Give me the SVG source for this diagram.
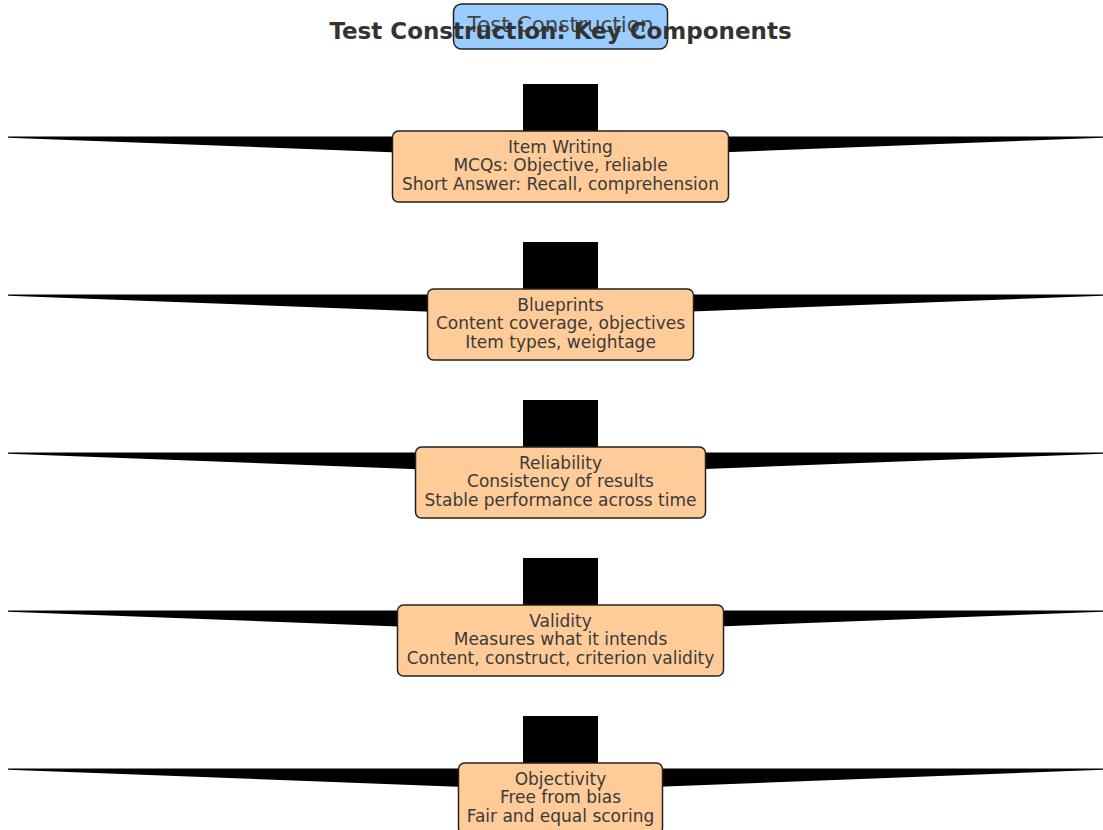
<svg xmlns="http://www.w3.org/2000/svg" width="1103" height="830" viewBox="0 0 1103 830">
<style>
.bg{fill:#ffffff}
.conn{fill:#000000;stroke:none}
.box{fill:#ffcc99;stroke:#222222;stroke-width:1.5}
.root{fill:#99ccff;stroke:#222222;stroke-width:1.5}
.t{font-family:"DejaVu Sans",sans-serif;font-size:17px;fill:#3a3a3a;text-anchor:middle}
.rt{font-family:"DejaVu Sans",sans-serif;font-size:21.5px;fill:#444444;text-anchor:middle}
.title{font-family:"DejaVu Sans",sans-serif;font-weight:bold;font-size:23px;fill:#333333;text-anchor:middle}
</style>
<rect class="bg" x="0" y="0" width="1103" height="830"/>
<g id="connectors">
  <g transform="translate(0,0)">
    <rect class="conn" x="523" y="84" width="75" height="48"/>
    <polygon class="conn" points="8,136.5 1103,136.5 1103,137.8 560,158.5 8,137.8"/>
  </g>
  <g transform="translate(0,158)">
    <rect class="conn" x="523" y="84" width="75" height="48"/>
    <polygon class="conn" points="8,136.5 1103,136.5 1103,137.8 560,158.5 8,137.8"/>
  </g>
  <g transform="translate(0,316)">
    <rect class="conn" x="523" y="84" width="75" height="48"/>
    <polygon class="conn" points="8,136.5 1103,136.5 1103,137.8 560,158.5 8,137.8"/>
  </g>
  <g transform="translate(0,474)">
    <rect class="conn" x="523" y="84" width="75" height="48"/>
    <polygon class="conn" points="8,136.5 1103,136.5 1103,137.8 560,158.5 8,137.8"/>
  </g>
  <g transform="translate(0,632)">
    <rect class="conn" x="523" y="84" width="75" height="48"/>
    <polygon class="conn" points="8,136.5 1103,136.5 1103,137.8 560,158.5 8,137.8"/>
  </g>
</g>
<g id="node-root">
  <rect class="root" x="453.5" y="4" width="214" height="45" rx="8"/>
  <text class="rt" x="560.5" y="31.5">Test Construction</text>
</g>
<g id="node-item-writing">
  <rect class="box" x="392.5" y="131" width="336" height="71" rx="6"/>
  <text class="t" x="560.5" y="152.5">Item Writing</text>
  <text class="t" x="560.5" y="171">MCQs: Objective, reliable</text>
  <text class="t" x="560.5" y="189.5">Short Answer: Recall, comprehension</text>
</g>
<g id="node-blueprints">
  <rect class="box" x="427.5" y="289" width="266" height="71" rx="6"/>
  <text class="t" x="560.5" y="310.5">Blueprints</text>
  <text class="t" x="560.5" y="329">Content coverage, objectives</text>
  <text class="t" x="560.5" y="347.5">Item types, weightage</text>
</g>
<g id="node-reliability">
  <rect class="box" x="415.5" y="447" width="290" height="71" rx="6"/>
  <text class="t" x="560.5" y="468.5">Reliability</text>
  <text class="t" x="560.5" y="487">Consistency of results</text>
  <text class="t" x="560.5" y="505.5">Stable performance across time</text>
</g>
<g id="node-validity">
  <rect class="box" x="397.5" y="605" width="326" height="71" rx="6"/>
  <text class="t" x="560.5" y="626.5">Validity</text>
  <text class="t" x="560.5" y="645">Measures what it intends</text>
  <text class="t" x="560.5" y="663.5">Content, construct, criterion validity</text>
</g>
<g id="node-objectivity">
  <rect class="box" x="458.5" y="763" width="204" height="71" rx="6"/>
  <text class="t" x="560.5" y="784.5">Objectivity</text>
  <text class="t" x="560.5" y="803">Free from bias</text>
  <text class="t" x="560.5" y="821.5">Fair and equal scoring</text>
</g>
<text class="title" x="560.5" y="39">Test Construction: Key Components</text>
</svg>
